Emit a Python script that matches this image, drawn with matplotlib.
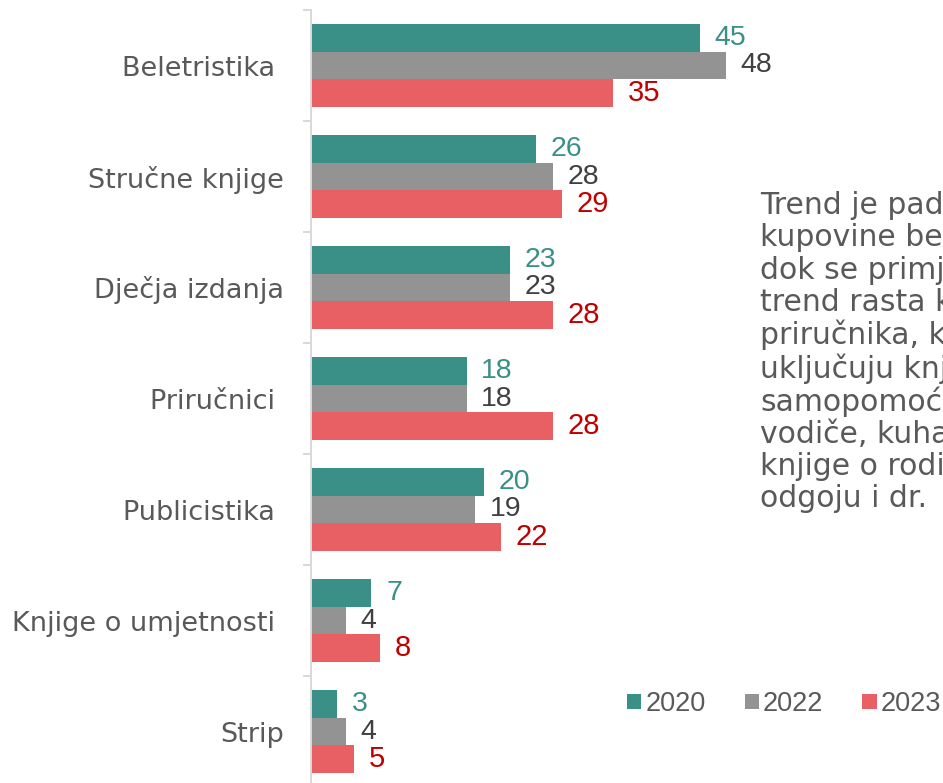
import matplotlib.pyplot as plt
import numpy as np

# podaci
kategorije = ["Beletristika ", "Stručne knjige", "Dječja izdanja", "Priručnici ",
              "Publicistika ", "Knjige o umjetnosti ", "Strip"]
godine = ["2020", "2022", "2023"]
v2020 = [45, 26, 23, 18, 20, 7, 3]
v2022 = [48, 28, 23, 18, 19, 4, 4]
v2023 = [35, 29, 28, 28, 22, 8, 5]

boje = ["#3a8f86", "#939393", "#e96064"]
boje_oznaka = ["#3a8f86", "#404040", "#c00000"]
vel_oznaka = [20.5, 20.5, 21]

tekst = ("Trend je pad\n"
         "kupovine beletristike,\n"
         "dok se primjećuje\n"
         "trend rasta kupovine\n"
         "priručnika, koji\n"
         "uključuju knjige\n"
         "samopomoći,\n"
         "vodiče, kuharice,\n"
         "knjige o roditeljstvu i\n"
         "odgoju i dr.")

W, H = 943, 783
fig = plt.figure(figsize=(W / 100, H / 100), dpi=100)
ax = fig.add_axes([311 / W, (H - 787) / H, 1 - 311 / W, 777 / H])

y = np.arange(len(kategorije))
h = 0.25
serije = [v2020, v2022, v2023]
for i, vals in enumerate(serije):
    bars = ax.barh(y + (i - 1) * h, vals, height=h, color=boje[i], label=godine[i])
    ax.bar_label(bars, padding=10.5, color=boje_oznaka[i], fontsize=vel_oznaka[i],
                 family="Liberation Sans")

ax.set_xlim(0, 632 / 8.64)
ax.set_ylim(6.5, -0.5)

ax.set_yticks(y)
ax.set_yticklabels(kategorije, fontsize=19.5, color="#595959", family="DejaVu Sans")
ax.tick_params(axis="y", which="major", length=0, pad=19.5)
ax.set_yticks(np.arange(-0.5, 7.0, 1.0), minor=True)
ax.tick_params(axis="y", which="minor", length=5.8, width=1.4, color="#d9d9d9")
ax.set_xticks([])

for s in ["top", "right", "bottom"]:
    ax.spines[s].set_visible(False)
ax.spines["left"].set_color("#d9d9d9")
ax.spines["left"].set_linewidth(1.44)

leg = ax.legend(loc="center left", bbox_to_anchor=(627 / W, 1 - 704 / H),
                bbox_transform=fig.transFigure, ncol=3, frameon=False,
                handlelength=0.52, handleheight=0.52, handletextpad=0.15,
                columnspacing=1.45, borderpad=0, borderaxespad=0,
                prop={"family": "Liberation Sans", "size": 19.5})
for t in leg.get_texts():
    t.set_color("#595959")

fig.text(760 / W, 1 - 191 / H, tekst, ha="left", va="top", fontsize=21.5,
         color="#595959", family="DejaVu Sans", linespacing=1.12)

fig.savefig("out.png", dpi=100)
